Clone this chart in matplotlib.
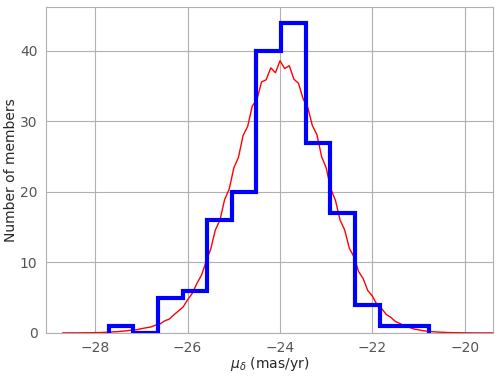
import matplotlib
matplotlib.use("Agg")
import matplotlib.pyplot as plt
import numpy as np

# histogram of members (blue steps)
bin_edges = [-27.71, -27.18, -26.64, -26.11, -25.58, -25.04, -24.51,
             -23.98, -23.44, -22.91, -22.38, -21.84, -21.31, -20.78]
counts = [1, 0, 5, 6, 16, 20, 40, 44, 27, 17, 4, 1, 1]

model_y = [0.00, 0.00, 0.01, 0.00, 0.01, 0.02, 0.02, 0.04, 0.05, 0.08,
           0.10, 0.15, 0.18, 0.25, 0.31, 0.40, 0.45, 0.60, 0.72, 0.83,
           1.08, 1.25, 1.70, 1.95, 2.55, 3.10, 3.65, 4.70, 5.60, 7.00,
           8.20, 10.10, 11.9, 14.6, 16.0, 18.9, 20.4, 23.4, 24.9, 28.0,
           29.3, 32.2, 33.1, 35.6, 35.9, 37.6, 36.9, 38.6, 37.5, 37.9,
           36.0, 35.4, 33.2, 32.0, 29.4, 28.1, 25.0, 23.4, 20.4, 18.8,
           16.0, 14.6, 12.0, 10.8, 8.7, 7.7, 6.0, 5.2, 4.0, 3.45,
           2.6, 2.20, 1.60, 1.32, 0.95, 0.78, 0.55, 0.44, 0.30, 0.24,
           0.17, 0.12, 0.09, 0.06, 0.04, 0.03, 0.02, 0.01, 0.01, 0.00,
           0.00, 0.00, 0.00, 0.00]
model_x = np.linspace(-28.7, -19.4, len(model_y))

plt.rcParams["font.family"] = "DejaVu Sans"

fig = plt.figure(figsize=(4.98, 3.8), dpi=100)
ax = fig.add_axes([0.092, 0.124, 0.897, 0.857])

ax.plot(model_x, model_y, color="red", lw=1.0, zorder=2)
ax.stairs(counts, bin_edges, color="blue", lw=3, baseline=0, zorder=3)

ax.set_xlim(-29.07, -19.4)
ax.set_ylim(0, 46.2)
ax.set_xticks([-28, -26, -24, -22, -20])
ax.set_yticks([0, 10, 20, 30, 40])

ax.grid(True, color="#b0b0b0", lw=0.8)
ax.set_axisbelow(True)
for s in ax.spines.values():
    s.set_color("#b0b0b0")
    s.set_linewidth(0.8)
ax.tick_params(length=0, pad=6, labelsize=10, labelcolor="#555555")

ax.set_xlabel(r"$\mu_\delta$ (mas/yr)", fontsize=10, color="#262626", labelpad=0)
ax.set_ylabel("Number of members", fontsize=10, color="#262626", labelpad=1)

fig.savefig("out.png", dpi=100)
